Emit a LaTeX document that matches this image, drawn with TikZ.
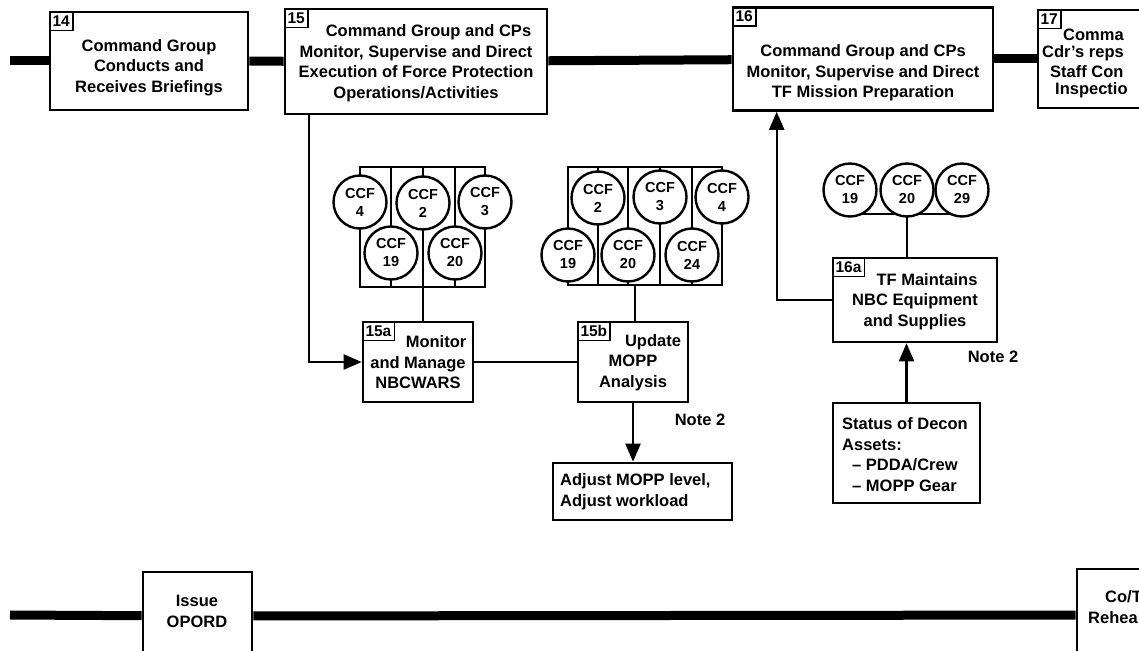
\documentclass[tikz,border=0pt]{standalone}
\usepackage{fontspec}
\setmainfont{Liberation Sans}
\usetikzlibrary{arrows.meta}

\begin{document}
\begin{tikzpicture}[x=1pt, y=-1pt,
                    font=\fontsize{16.5}{20.5}\selectfont\bfseries,
                    box/.style={draw, line width=2.6pt, inner sep=0},
                    num/.style={draw, line width=1.6pt, anchor=north west, inner xsep=3pt, inner ysep=0, minimum height=19pt,
                                font=\fontsize{15.5}{15.5}\selectfont\bfseries},
                    ccf/.style={draw, circle, fill=white, line width=2.4pt, minimum size=53pt, inner sep=0, align=center,
                                font=\fontsize{14.5}{18}\selectfont\bfseries},
                    txt/.style={align=center, inner sep=0},
                    bus/.style={line width=9pt},
                    link/.style={line width=2.2pt},
                    arr/.style={link, -{Triangle[length=18pt, width=15pt]}}]
                \useasboundingbox (0,0) rectangle (1139,650);
                \clip (0,0) rectangle (1139,650);

                \node (14) [box, minimum width=198pt, minimum height=98pt] at (149,61) {};
                \node (15) [box, minimum width=262pt, minimum height=105pt] at (416,61.5) {};
                \node (16) [box, minimum width=260pt, minimum height=103pt] at (863,59) {};
                \node (17) [box, minimum width=244pt, minimum height=98pt] at (1160,59) {};
                \node [num] at (14.north west) {14};
                \node [num] at (15.north west) {15};
                \node [num] at (16.north west) {16};
                \node [num] at (17.north west) {17};
                \node [txt] at (149,67.5) {Command Group\\Conducts and\\Receives Briefings};
                \node [txt] at (416,63) {\hspace*{25pt}Command Group and CPs\\Monitor, Supervise and Direct\\Execution of Force Protection\\Operations/Activities};
                \node [txt] at (863,73) {Command Group and CPs\\Monitor, Supervise and Direct\\TF Mission Preparation};
                \node [txt, anchor=west] at (1063,35) {Comma};
                \node [txt, anchor=west] at (1042,53) {Cdr's reps};
                \node [txt, anchor=west] at (1050,72) {Staff Con};
                \node [txt, anchor=west] at (1055,90) {Inspectio};

                \coordinate (top) at (10,61);
                \draw [bus] (top) -- (14);
                \draw [bus] (14) -- (15);
                \draw [bus] (15) -- (16);
                \draw [bus] (16) -- (17);

                \node (15a) [box, minimum width=110pt, minimum height=80pt] at (418,362) {};
                \node (15b) [box, minimum width=110pt, minimum height=80pt] at (633,362) {};
                \node (16a) [box, minimum width=164pt, minimum height=84pt] at (915,300) {};
                \node [num] at (15a.north west) {15a};
                \node [num] at (15b.north west) {15b};
                \node [num] at (16a.north west) {16a};
                \node [txt] at (418,362.5) {\hspace*{36pt}Monitor\\and Manage\\NBCWARS};
                \node [txt] at (633,362.5) {\hspace*{40pt}Update\\MOPP\\Analysis};
                \node [txt] at (915,301.5) {\hspace*{24pt}TF Maintains\\NBC Equipment\\and Supplies};

                \node (status) [box, minimum width=147pt, minimum height=100pt] at (906.5,453) {};
                \node [txt, align=left, anchor=west] at (842,454.5) {Status of Decon\\Assets:\\\hspace*{10pt}-- PDDA/Crew\\\hspace*{10pt}-- MOPP Gear};
                \node (adjust) [box, minimum width=179pt, minimum height=57pt] at (642.5,491.5) {};
                \node [txt, align=left, anchor=west] at (560,491.5) {Adjust MOPP level,\\Adjust workload};
                \node [txt] at (700,420) {Note 2};
                \node [txt] at (993,357) {Note 2};

                \draw [arr] ([xshift=25pt]15.south west) |- (15a.west);
                \draw [link] (15a) -- (15b);
                \draw [arr] (15b.south) -- (15b.south |- adjust.north);
                \draw [arr] (16a.west) -| ([xshift=45pt]16.south west);
                \draw [arr] (status.north) -- (status.north |- 16a.south);

                \foreach \x in {360,391,423,455,485}
                    \draw [link] (\x,167) -- (\x,287);
                \draw [link] (360,167) rectangle (485,287);
                \coordinate (ga) at (423,287);
                \draw [link] (ga) -- (ga |- 15a.north);
                \node (a4)  [ccf] at (360,202) {CCF\\4};
                \node (a2)  [ccf] at (423,203) {CCF\\2};
                \node (a3)  [ccf] at (485,202) {CCF\\3};
                \node (a19) [ccf] at (391,253) {CCF\\19};
                \node (a20) [ccf] at (455,253) {CCF\\20};

                \foreach \x in {568,598,628,660,692,722}
                    \draw [link] (\x,167) -- (\x,285);
                \draw [link] (568,167) rectangle (722,285);
                \coordinate (gb) at (635,285);
                \draw [link] (gb) -- (gb |- 15b.north);
                \node (b2)  [ccf] at (598,198) {CCF\\2};
                \node (b3)  [ccf] at (660,197) {CCF\\3};
                \node (b4)  [ccf] at (722,197) {CCF\\4};
                \node (b19) [ccf] at (568,255) {CCF\\19};
                \node (b20) [ccf] at (628,255) {CCF\\20};
                \node (b24) [ccf] at (692,255) {CCF\\24};

                \draw [link] (850,214) -- (962,214);
                \coordinate (gc) at (907,214);
                \draw [link] (gc) -- (gc |- 16a.north);
                \node (c19) [ccf] at (850,190) {CCF\\19};
                \node (c20) [ccf] at (907,190) {CCF\\20};
                \node (c29) [ccf] at (962,190) {CCF\\29};

                \node (opord) [box, minimum width=109pt, minimum height=88pt] at (197.5,616) {};
                \node (rehearsal) [box, minimum width=102pt, minimum height=92pt] at (1128,615) {};
                \node [txt] at (197,611.5) {Issue\\OPORD};
                \node [txt, anchor=west] at (1105,597) {Co/T};
                \node [txt, anchor=west] at (1088,618) {Rehea};
                \coordinate (bottom) at (10,615);
                \draw [bus] (bottom) -- (opord);
                \draw [bus] (opord) -- (rehearsal);
            \end{tikzpicture}
\end{document}
